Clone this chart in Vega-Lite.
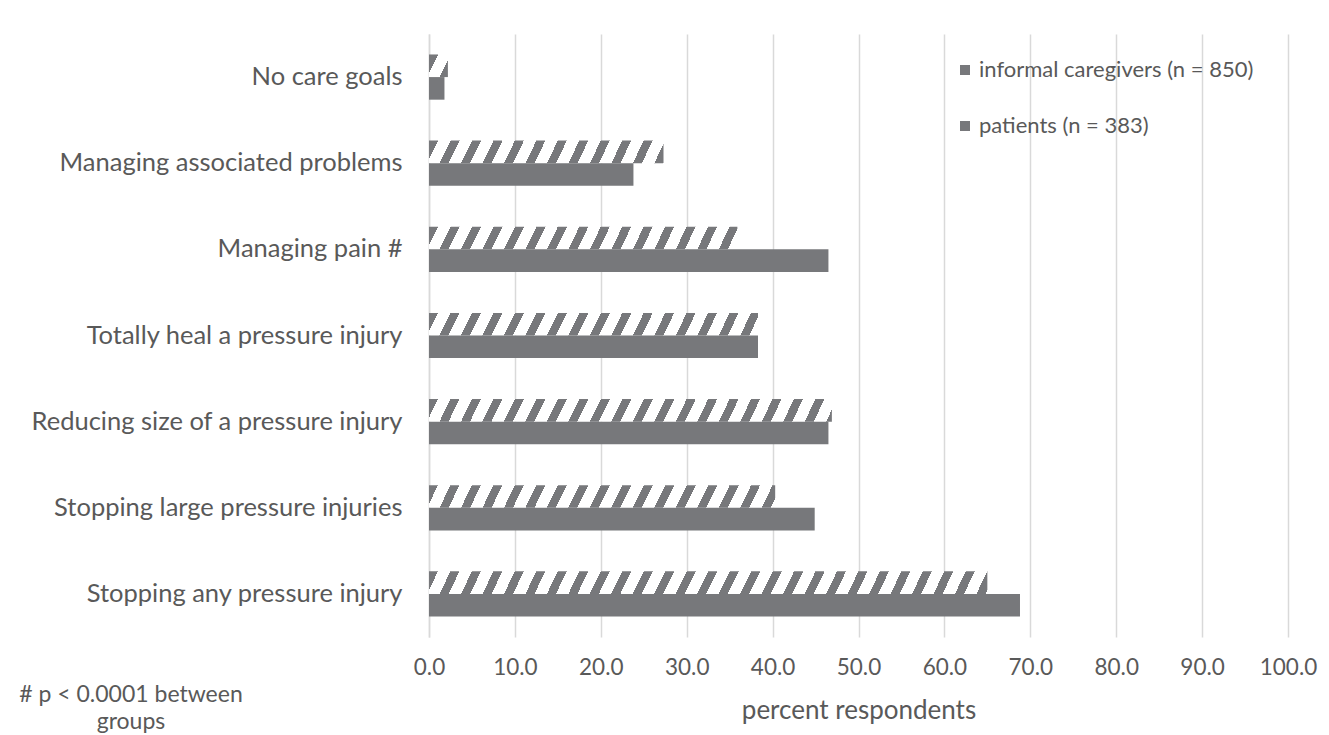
{
  "$schema": "https://vega.github.io/schema/vega-lite/v6.json",
  "width": 859,
  "height": 603,
  "autosize": {"type": "none"},
  "padding": {"left": 429, "top": 34, "right": 41, "bottom": 98},
  "background": "#ffffff",
  "config": {
    "font": "Lato",
    "view": {"stroke": null},
    "axis": {"labelColor": "#595959", "titleColor": "#595959", "labelFont": "Lato", "titleFont": "Lato"},
    "legend": {"labelColor": "#595959", "labelFont": "Lato"}
  },
  "params": [
    {
      "name": "hatch",
      "value": [
        {"offset": 0, "color": "#77787b"}, {"offset": 0.0105, "color": "#77787b"}, {"offset": 0.0105, "color": "#fff"}, {"offset": 0.025, "color": "#fff"},
        {"offset": 0.025, "color": "#77787b"}, {"offset": 0.0355, "color": "#77787b"}, {"offset": 0.0355, "color": "#fff"}, {"offset": 0.05, "color": "#fff"},
        {"offset": 0.05, "color": "#77787b"}, {"offset": 0.0605, "color": "#77787b"}, {"offset": 0.0605, "color": "#fff"}, {"offset": 0.075, "color": "#fff"},
        {"offset": 0.075, "color": "#77787b"}, {"offset": 0.0855, "color": "#77787b"}, {"offset": 0.0855, "color": "#fff"}, {"offset": 0.1, "color": "#fff"},
        {"offset": 0.1, "color": "#77787b"}, {"offset": 0.1105, "color": "#77787b"}, {"offset": 0.1105, "color": "#fff"}, {"offset": 0.125, "color": "#fff"},
        {"offset": 0.125, "color": "#77787b"}, {"offset": 0.1355, "color": "#77787b"}, {"offset": 0.1355, "color": "#fff"}, {"offset": 0.15, "color": "#fff"},
        {"offset": 0.15, "color": "#77787b"}, {"offset": 0.1605, "color": "#77787b"}, {"offset": 0.1605, "color": "#fff"}, {"offset": 0.175, "color": "#fff"},
        {"offset": 0.175, "color": "#77787b"}, {"offset": 0.1855, "color": "#77787b"}, {"offset": 0.1855, "color": "#fff"}, {"offset": 0.2, "color": "#fff"},
        {"offset": 0.2, "color": "#77787b"}, {"offset": 0.2105, "color": "#77787b"}, {"offset": 0.2105, "color": "#fff"}, {"offset": 0.225, "color": "#fff"},
        {"offset": 0.225, "color": "#77787b"}, {"offset": 0.2355, "color": "#77787b"}, {"offset": 0.2355, "color": "#fff"}, {"offset": 0.25, "color": "#fff"},
        {"offset": 0.25, "color": "#77787b"}, {"offset": 0.2605, "color": "#77787b"}, {"offset": 0.2605, "color": "#fff"}, {"offset": 0.275, "color": "#fff"},
        {"offset": 0.275, "color": "#77787b"}, {"offset": 0.2855, "color": "#77787b"}, {"offset": 0.2855, "color": "#fff"}, {"offset": 0.3, "color": "#fff"},
        {"offset": 0.3, "color": "#77787b"}, {"offset": 0.3105, "color": "#77787b"}, {"offset": 0.3105, "color": "#fff"}, {"offset": 0.325, "color": "#fff"},
        {"offset": 0.325, "color": "#77787b"}, {"offset": 0.3355, "color": "#77787b"}, {"offset": 0.3355, "color": "#fff"}, {"offset": 0.35, "color": "#fff"},
        {"offset": 0.35, "color": "#77787b"}, {"offset": 0.3605, "color": "#77787b"}, {"offset": 0.3605, "color": "#fff"}, {"offset": 0.375, "color": "#fff"},
        {"offset": 0.375, "color": "#77787b"}, {"offset": 0.3855, "color": "#77787b"}, {"offset": 0.3855, "color": "#fff"}, {"offset": 0.4, "color": "#fff"},
        {"offset": 0.4, "color": "#77787b"}, {"offset": 0.4105, "color": "#77787b"}, {"offset": 0.4105, "color": "#fff"}, {"offset": 0.425, "color": "#fff"},
        {"offset": 0.425, "color": "#77787b"}, {"offset": 0.4355, "color": "#77787b"}, {"offset": 0.4355, "color": "#fff"}, {"offset": 0.45, "color": "#fff"},
        {"offset": 0.45, "color": "#77787b"}, {"offset": 0.4605, "color": "#77787b"}, {"offset": 0.4605, "color": "#fff"}, {"offset": 0.475, "color": "#fff"},
        {"offset": 0.475, "color": "#77787b"}, {"offset": 0.4855, "color": "#77787b"}, {"offset": 0.4855, "color": "#fff"}, {"offset": 0.5, "color": "#fff"},
        {"offset": 0.5, "color": "#77787b"}, {"offset": 0.5105, "color": "#77787b"}, {"offset": 0.5105, "color": "#fff"}, {"offset": 0.525, "color": "#fff"},
        {"offset": 0.525, "color": "#77787b"}, {"offset": 0.5355, "color": "#77787b"}, {"offset": 0.5355, "color": "#fff"}, {"offset": 0.55, "color": "#fff"},
        {"offset": 0.55, "color": "#77787b"}, {"offset": 0.5605, "color": "#77787b"}, {"offset": 0.5605, "color": "#fff"}, {"offset": 0.575, "color": "#fff"},
        {"offset": 0.575, "color": "#77787b"}, {"offset": 0.5855, "color": "#77787b"}, {"offset": 0.5855, "color": "#fff"}, {"offset": 0.6, "color": "#fff"},
        {"offset": 0.6, "color": "#77787b"}, {"offset": 0.6105, "color": "#77787b"}, {"offset": 0.6105, "color": "#fff"}, {"offset": 0.625, "color": "#fff"},
        {"offset": 0.625, "color": "#77787b"}, {"offset": 0.6355, "color": "#77787b"}, {"offset": 0.6355, "color": "#fff"}, {"offset": 0.65, "color": "#fff"},
        {"offset": 0.65, "color": "#77787b"}, {"offset": 0.6605, "color": "#77787b"}, {"offset": 0.6605, "color": "#fff"}, {"offset": 0.675, "color": "#fff"},
        {"offset": 0.675, "color": "#77787b"}, {"offset": 0.6855, "color": "#77787b"}, {"offset": 0.6855, "color": "#fff"}, {"offset": 0.7, "color": "#fff"}
      ]
    }
  ],
  "title": {
    "text": ["# p < 0.0001 between", "groups"],
    "orient": "bottom",
    "anchor": "start",
    "frame": "group",
    "align": "center",
    "dx": -298,
    "dy": -40,
    "offset": 0,
    "font": "Lato",
    "fontSize": 23,
    "fontWeight": "normal",
    "color": "#595959",
    "lineHeight": 27
  },
  "data": {
    "values": [
      {"goal": "No care goals", "group": "informal caregivers (n = 850)", "pct": 2.2},
      {"goal": "No care goals", "group": "patients (n = 383)", "pct": 1.8},
      {"goal": "Managing associated problems", "group": "informal caregivers (n = 850)", "pct": 27.3},
      {"goal": "Managing associated problems", "group": "patients (n = 383)", "pct": 23.8},
      {"goal": "Managing pain #", "group": "informal caregivers (n = 850)", "pct": 35.9},
      {"goal": "Managing pain #", "group": "patients (n = 383)", "pct": 46.5},
      {"goal": "Totally heal a pressure injury", "group": "informal caregivers (n = 850)", "pct": 38.3},
      {"goal": "Totally heal a pressure injury", "group": "patients (n = 383)", "pct": 38.3},
      {"goal": "Reducing size of a pressure injury", "group": "informal caregivers (n = 850)", "pct": 46.9},
      {"goal": "Reducing size of a pressure injury", "group": "patients (n = 383)", "pct": 46.5},
      {"goal": "Stopping large pressure injuries", "group": "informal caregivers (n = 850)", "pct": 40.3},
      {"goal": "Stopping large pressure injuries", "group": "patients (n = 383)", "pct": 44.9},
      {"goal": "Stopping any pressure injury", "group": "informal caregivers (n = 850)", "pct": 65.0},
      {"goal": "Stopping any pressure injury", "group": "patients (n = 383)", "pct": 68.8}
    ]
  },
  "mark": {"type": "bar", "strokeWidth": 0},
  "encoding": {
    "y": {
      "field": "goal",
      "type": "nominal",
      "sort": null,
      "scale": {"paddingInner": 0.475, "paddingOuter": 0.2375},
      "axis": {
        "title": null,
        "labelFontSize": 25.5,
        "labelPadding": 27,
        "ticks": false,
        "tickSize": 0,
        "labelLimit": 0,
        "domainColor": "#d9d9d9",
        "domainWidth": 1.5
      }
    },
    "yOffset": {
      "field": "group",
      "type": "nominal",
      "scale": {"domain": ["informal caregivers (n = 850)", "patients (n = 383)"], "paddingInner": 0, "paddingOuter": 0}
    },
    "x": {
      "field": "pct",
      "type": "quantitative",
      "stack": null,
      "scale": {"domain": [0, 100], "nice": false},
      "axis": {
        "values": [0, 10, 20, 30, 40, 50, 60, 70, 80, 90, 100],
        "format": ".1f",
        "title": "percent respondents",
        "grid": true,
        "gridColor": "#d9d9d9",
        "gridWidth": 1.5,
        "domain": false,
        "ticks": false,
        "tickSize": 0,
        "labelFontSize": 22.5,
        "labelPadding": 19,
        "labelFlush": false,
        "titleFontSize": 26,
        "titleFontWeight": "normal",
        "titlePadding": 19
      }
    },
    "fill": {
      "condition": {
        "test": "datum.group === 'informal caregivers (n = 850)'",
        "value": {"expr": "{gradient: 'linear', x1: 0, y1: 0, x2: (datum.pct/100)/((datum.pct/100)*(datum.pct/100)+0.000164), y2: 0.0128/((datum.pct/100)*(datum.pct/100)+0.000164), stops: hatch}"}
      },
      "value": "#77787b"
    },
    "stroke": {
      "field": "group",
      "type": "nominal",
      "scale": {"domain": ["informal caregivers (n = 850)", "patients (n = 383)"], "range": ["#77787b", "#77787b"]},
      "legend": {
        "title": null,
        "orient": "none",
        "legendX": 525,
        "legendY": 25,
        "symbolType": "square",
        "symbolSize": 100,
        "symbolStrokeWidth": 0,
        "symbolFillColor": "#77787b",
        "labelFontSize": 22,
        "labelOffset": 3,
        "rowPadding": 34,
        "labelLimit": 0,
        "encode": {
          "symbols": {
            "update": {
              "fill": {"value": "#77787b"},
              "shape": [
                {"test": "datum.value === 'patients (n = 383)'", "value": "square"},
                {"value": "M-1,-1L-0.2,-1L-1,-0.2Z M0.6,-1L1,-1L1,-0.6L-0.6,1L-1,1L-1,0.6Z M1,0.2L1,1L0.2,1Z"}
              ],
              "size": {"value": 100},
              "strokeWidth": {"value": 0}
            }
          }
        }
      }
    }
  }
}
